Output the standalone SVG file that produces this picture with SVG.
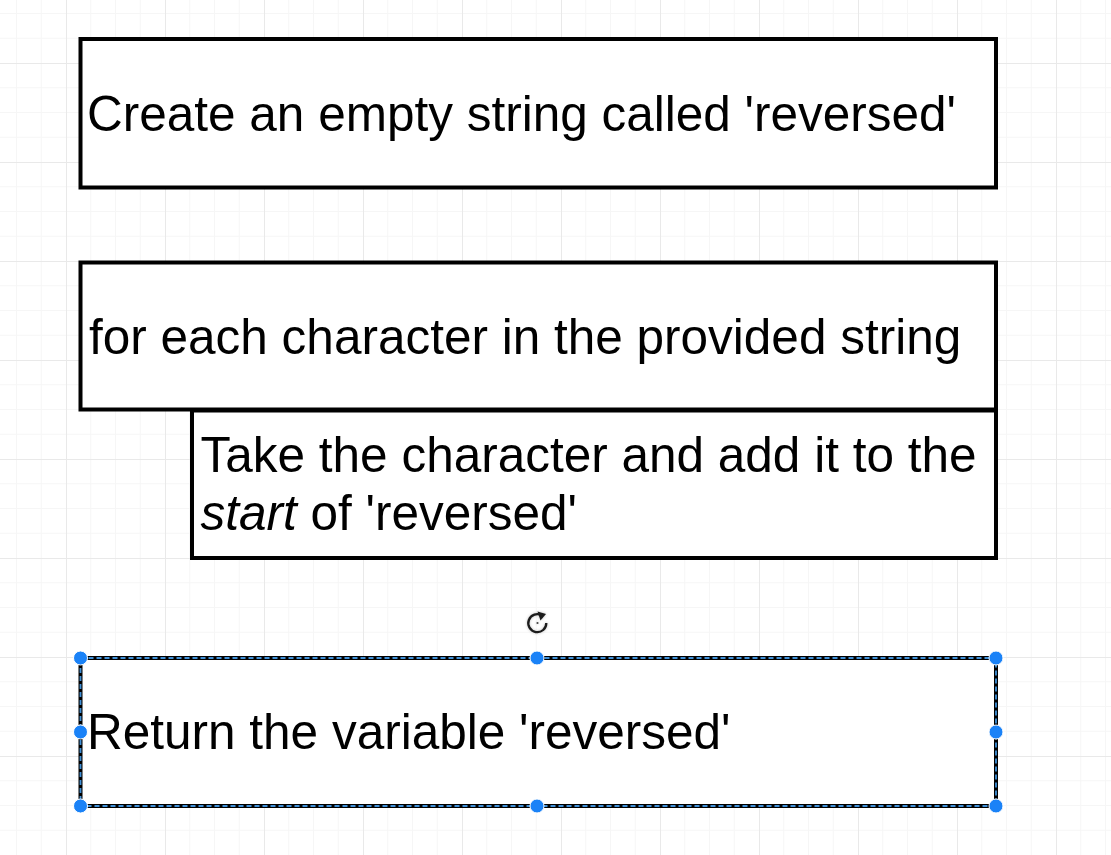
<svg xmlns="http://www.w3.org/2000/svg" width="1111" height="855" viewBox="0 0 1111 855">
  <defs>
    <pattern id="grid" x="66" y="63" width="99" height="99" patternUnits="userSpaceOnUse">
      <path d="M24.75 0V99M49.5 0V99M74.25 0V99M0 24.75H99M0 49.5H99M0 74.25H99" stroke="#f6f6f6" stroke-width="1" fill="none"/>
      <path d="M0.5 0V99M0 0.5H99" stroke="#e9e9e9" stroke-width="1" fill="none"/>
    </pattern>
    <filter id="soft" x="-50%" y="-50%" width="200%" height="200%">
      <feGaussianBlur in="SourceAlpha" stdDeviation="1.5"/>
      <feComponentTransfer><feFuncA type="linear" slope="0.25"/></feComponentTransfer>
      <feMerge><feMergeNode/><feMergeNode in="SourceGraphic"/></feMerge>
    </filter>
  </defs>
  <style>
    .box { fill: #ffffff; stroke: #000000; stroke-width: 4; }
    .lbl { font-family: "Liberation Sans", Arial, Helvetica, sans-serif; font-size: 49.5px; fill: #000000; }
    .sel { fill: none; stroke: #3f8fd6; stroke-width: 1.8; stroke-dasharray: 5 3; }
    .handle { fill: #1a82f7; stroke: #ffffff; stroke-width: 1; }
  </style>
  <rect x="0" y="0" width="1111" height="855" fill="#ffffff"/>
  <rect x="0" y="0" width="1111" height="855" fill="url(#grid)"/>

  <g id="connectors"></g>

  <g id="node-create">
    <rect class="box" x="80.5" y="39" width="915.5" height="148.5"/>
    <text class="lbl" x="87" y="130.5">Create an empty string called 'reversed'</text>
  </g>

  <g id="node-loop">
    <rect class="box" x="80.5" y="262.5" width="915.5" height="147"/>
    <text class="lbl" x="89" y="354">for each character in the provided string</text>
  </g>

  <g id="node-take">
    <rect class="box" x="192" y="410.5" width="804" height="147.5"/>
    <text class="lbl" x="200.5" y="472">Take the character and add it to the</text>
    <text class="lbl" x="200.5" y="530"><tspan font-style="italic">start</tspan> of 'reversed'</text>
  </g>

  <g id="node-return">
    <rect class="box" x="80.5" y="658" width="915.5" height="148"/>
    <text class="lbl" x="87" y="749">Return the variable 'reversed'</text>
    <rect class="sel" x="80.5" y="658" width="915.5" height="148"/>
    <circle class="handle" cx="80.5" cy="658" r="7"/>
    <circle class="handle" cx="537" cy="658" r="7"/>
    <circle class="handle" cx="996" cy="658" r="7"/>
    <circle class="handle" cx="80.5" cy="732" r="7"/>
    <circle class="handle" cx="996" cy="732" r="7"/>
    <circle class="handle" cx="80.5" cy="806" r="7"/>
    <circle class="handle" cx="537" cy="806" r="7"/>
    <circle class="handle" cx="996" cy="806" r="7"/>
    <g id="rotate-icon" filter="url(#soft)">
      <path d="M542 615.5 A9 9 0 1 0 546.3 623" fill="none" stroke="#1a1a1a" stroke-width="2.3"/>
      <path d="M537.5 611.5 L546 614 L540.5 620.5 Z" fill="#1a1a1a"/>
      <circle cx="537.5" cy="623" r="1.1" fill="#444444"/>
    </g>
  </g>
</svg>
